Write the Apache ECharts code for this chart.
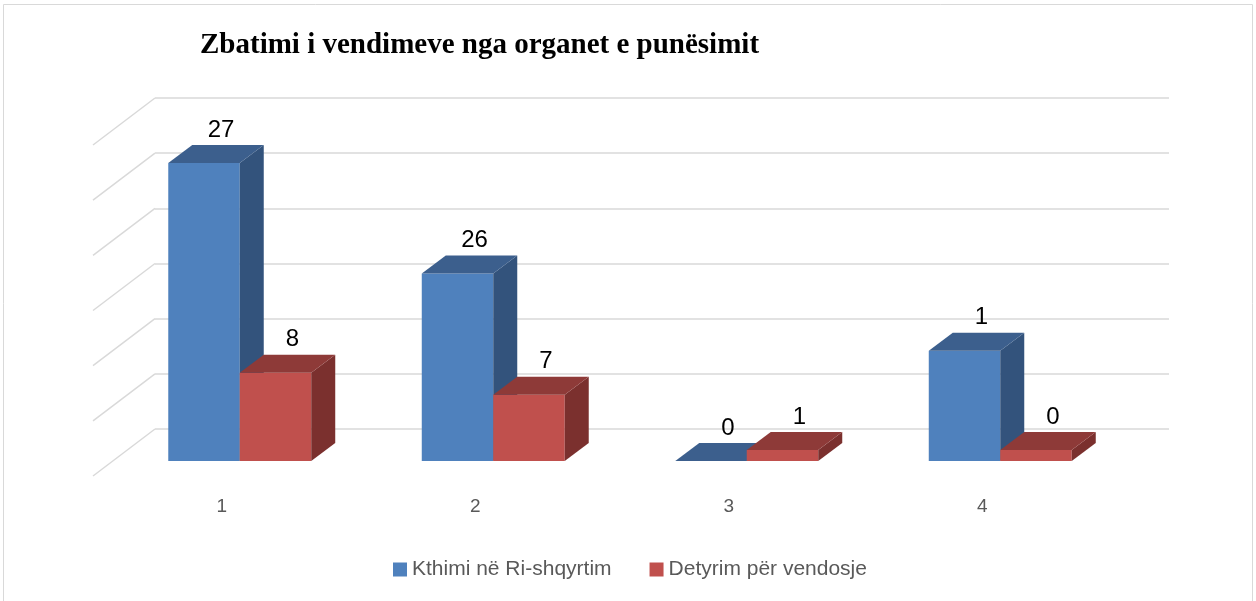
<!DOCTYPE html>
<html>
<head>
<meta charset="utf-8">
<script src="https://cdn.jsdelivr.net/npm/echarts@6/dist/echarts.min.js"></script>
<style>
  html, body { margin: 0; padding: 0; background: #fff; }
  #main { width: 1256px; height: 601px; }
</style>
</head>
<body>
<div id="main"></div>
<script>
// chart data
const categories = ['1', '2', '3', '4'];
const seriesNames = ['Kthimi në Ri-shqyrtim', 'Detyrim për vendosje'];
// bar heights as drawn in the picture
const blueValues = [27, 17, 0, 10];
const redValues = [8, 6, 1, 1];
// data labels as printed above the bars
const blueLabels = ['27', '26', '0', '1'];
const redLabels = ['8', '7', '1', '0'];
const gridTicks = [0, 5, 10, 15, 20, 25, 30];

const chartDom = document.getElementById('main');
const myChart = echarts.init(chartDom);

// 3d look
const DX = 24, DY = -18;        // bar depth
const WALL_DX = -62, WALL_DY = 47; // floor depth (side wall lines)
const BAR_RATIO = 0.282;

function barRenderer(left, front, topCol, sideCol) {
  return function (params, api) {
    const i = api.value(0);
    const v = api.value(1);
    const base = api.coord([i, 0]);
    const top = api.coord([i, v]);
    const band = api.size([1, 0])[0];
    const w = band * BAR_RATIO;
    const x0 = left ? base[0] - w : base[0];
    const x1 = x0 + w;
    const ty = top[1], by = base[1];
    const label = (left ? blueLabels : redLabels)[i];
    const children = [];
    if (by - ty > 0.5) {
      children.push({
        type: 'rect',
        shape: { x: x0, y: ty, width: w, height: by - ty },
        style: { fill: front }
      });
      children.push({
        type: 'polygon',
        shape: { points: [[x1, ty], [x1 + DX, ty + DY], [x1 + DX, by + DY], [x1, by]] },
        style: { fill: sideCol }
      });
    }
    children.push({
      type: 'polygon',
      shape: { points: [[x0, ty], [x1, ty], [x1 + DX, ty + DY], [x0 + DX, ty + DY]] },
      style: { fill: topCol }
    });
    children.push({
      type: 'text',
      style: {
        x: x0 + w / 2 + DX / 2 + 5,
        y: ty + DY - 3,
        text: label,
        fill: '#000',
        font: '24px "Liberation Sans", Arial, sans-serif',
        textAlign: 'center',
        textVerticalAlign: 'bottom'
      }
    });
    return { type: 'group', children: children };
  };
}

const option = {
  animation: false,
  title: {
    text: 'Zbatimi i vendimeve nga organet e punësimit',
    left: 200,
    top: 31,
    padding: 0,
    textStyle: {
      fontFamily: '"Liberation Serif", "Times New Roman", serif',
      fontWeight: 'bold',
      fontSize: 29,
      color: '#000'
    }
  },
  legend: {
    left: 388,
    top: 554,
    itemWidth: 14,
    itemHeight: 14,
    itemGap: 38,
    icon: 'rect',
    data: seriesNames,
    textStyle: { fontSize: 21, color: '#595959', fontFamily: '"Liberation Sans", Arial, sans-serif' }
  },
  graphic: [{
    type: 'rect',
    shape: { x: 3.5, y: 4.5, width: 1249, height: 620 },
    style: { fill: 'none', stroke: '#d9d9d9', lineWidth: 1 },
    silent: true
  }],
  grid: [
    // back wall
    { left: 155, right: 87, top: 98, bottom: 172 },
    // front plane of the bars
    { left: 113, right: 129, top: 130, bottom: 140 },
    // front edge of the floor (category labels)
    { left: 95, right: 147, top: 130, bottom: 125 }
  ],
  xAxis: [
    { gridIndex: 0, type: 'value', min: 0, max: 1, show: false },
    { gridIndex: 1, type: 'category', data: categories, show: false },
    {
      gridIndex: 2, type: 'category', data: categories,
      axisLine: { show: false }, axisTick: { show: false },
      axisLabel: { margin: 21, fontSize: 19, color: '#595959', fontFamily: '"Liberation Sans", Arial, sans-serif' }
    }
  ],
  yAxis: [
    {
      gridIndex: 0, type: 'value', min: 0, max: 30, interval: 5,
      axisLine: { show: false }, axisTick: { show: false }, axisLabel: { show: false },
      splitLine: { lineStyle: { color: '#d9d9d9', width: 1.5 } }
    },
    { gridIndex: 1, type: 'value', min: 0, max: 30, interval: 5, show: false, splitLine: { show: false } },
    { gridIndex: 2, type: 'value', show: false, splitLine: { show: false } }
  ],
  series: [
    {
      // side wall lines
      type: 'custom',
      xAxisIndex: 0,
      yAxisIndex: 0,
      silent: true,
      data: gridTicks.map(t => [0, t]),
      renderItem: function (params, api) {
        const p = api.coord([0, api.value(1)]);
        return {
          type: 'line',
          shape: { x1: p[0], y1: p[1], x2: p[0] + WALL_DX, y2: p[1] + WALL_DY },
          style: { stroke: '#d9d9d9', lineWidth: 1.5 }
        };
      }
    },
    {
      name: seriesNames[0],
      type: 'custom',
      xAxisIndex: 1,
      yAxisIndex: 1,
      itemStyle: { color: '#4F81BD' },
      data: categories.map((c, i) => [i, blueValues[i]]),
      renderItem: barRenderer(true, '#4F81BD', '#3C5F8D', '#33537C')
    },
    {
      name: seriesNames[1],
      type: 'custom',
      xAxisIndex: 1,
      yAxisIndex: 1,
      itemStyle: { color: '#C0504D' },
      data: categories.map((c, i) => [i, redValues[i]]),
      renderItem: barRenderer(false, '#C0504D', '#8E3A38', '#7B302E')
    }
  ]
};

myChart.setOption(option);
</script>
</body>
</html>
